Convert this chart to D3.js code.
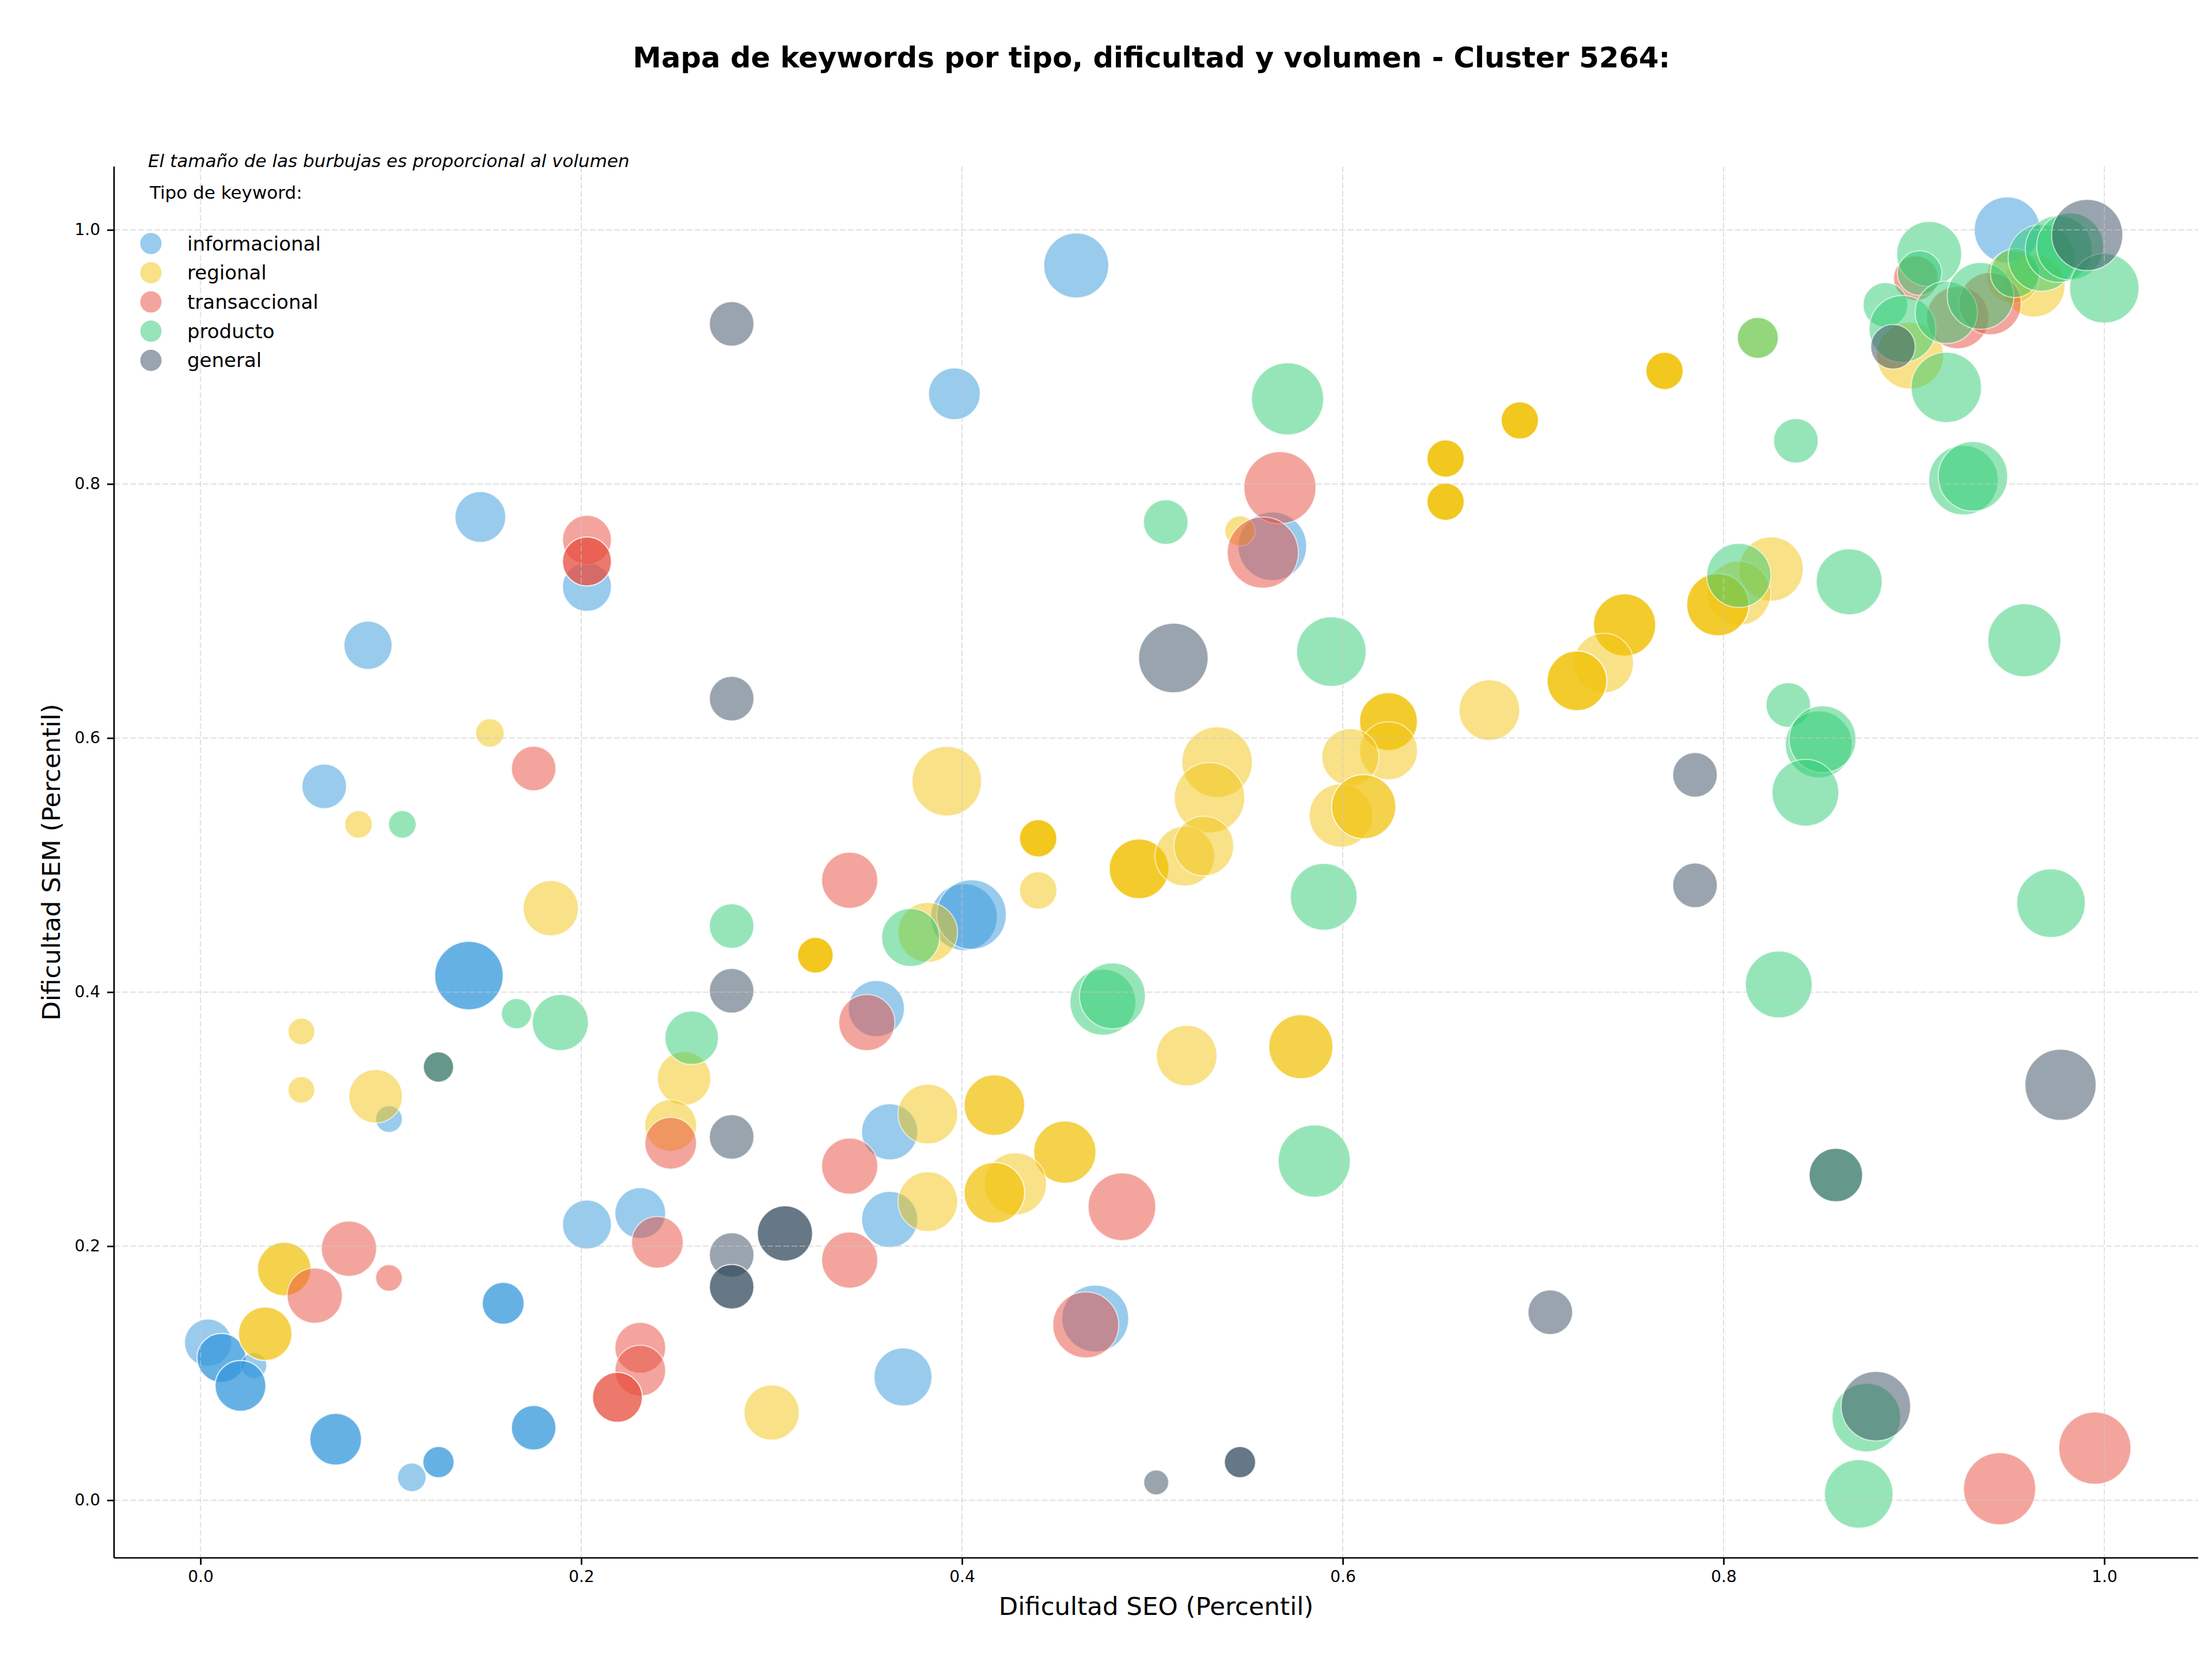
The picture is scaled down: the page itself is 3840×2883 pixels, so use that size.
<!DOCTYPE html>
<html>
<head>
<meta charset="utf-8">
<script src="https://cdn.jsdelivr.net/npm/d3@7"></script>
<style>
  body { margin: 0; background: #ffffff; }
  #chart { width: 3840px; height: 2883px; }
  text { font-family: "DejaVu Sans", sans-serif; fill: #000; }
</style>
</head>
<body>
<div id="chart"></div>
<script>
// each point: [dificultad SEO, dificultad SEM, volumen]
// repeated rows are keywords that share the same percentiles
var informacional = [
    [0.147, 0.774, 458], [0.203, 0.719, 426], [0.088, 0.673, 412], [0.065, 0.562, 353],
    [0.460, 0.972, 750], [0.396, 0.871, 475], [0.563, 0.751, 835], [0.949, 1.000, 772],
    [0.141, 0.413, 835], [0.141, 0.413, 835],
    [0.099, 0.300, 126], [0.203, 0.217, 426], [0.231, 0.226, 458], [0.004, 0.124, 396],
    [0.011, 0.112, 426], [0.011, 0.112, 426],
    [0.028, 0.106, 119],
    [0.021, 0.090, 458], [0.021, 0.090, 458],
    [0.159, 0.155, 312], [0.159, 0.155, 312],
    [0.071, 0.048, 475], [0.071, 0.048, 475],
    [0.175, 0.057, 353], [0.175, 0.057, 353],
    [0.111, 0.018, 144],
    [0.125, 0.030, 173], [0.125, 0.030, 173],
    [0.401, 0.459, 793], [0.405, 0.461, 858], [0.355, 0.387, 559], [0.362, 0.290, 559],
    [0.362, 0.221, 559], [0.470, 0.143, 793], [0.369, 0.097, 596]
];
var regional = [
    [0.152, 0.604, 144], [0.083, 0.532, 135], [0.546, 0.763, 162],
    [0.654, 0.820, 248], [0.654, 0.820, 248], [0.654, 0.820, 248], [0.654, 0.820, 248],
    [0.654, 0.786, 248], [0.654, 0.786, 248], [0.654, 0.786, 248], [0.654, 0.786, 248],
    [0.677, 0.622, 652],
    [0.624, 0.613, 596], [0.624, 0.613, 596], [0.624, 0.613, 596],
    [0.624, 0.590, 596], [0.604, 0.585, 578], [0.534, 0.581, 881], [0.530, 0.553, 881],
    [0.392, 0.566, 858],
    [0.440, 0.521, 248], [0.440, 0.521, 248], [0.440, 0.521, 248], [0.440, 0.521, 248],
    [0.599, 0.539, 711],
    [0.611, 0.546, 732], [0.611, 0.546, 732],
    [0.693, 0.850, 248], [0.693, 0.850, 248], [0.693, 0.850, 248], [0.693, 0.850, 248],
    [0.769, 0.889, 248], [0.769, 0.889, 248], [0.769, 0.889, 248], [0.769, 0.889, 248],
    [0.818, 0.915, 298], [0.825, 0.733, 732], [0.808, 0.714, 732],
    [0.797, 0.705, 690], [0.797, 0.705, 690], [0.797, 0.705, 690],
    [0.748, 0.689, 690], [0.748, 0.689, 690], [0.748, 0.689, 690],
    [0.737, 0.659, 633],
    [0.723, 0.645, 633], [0.723, 0.645, 633], [0.723, 0.645, 633],
    [0.184, 0.466, 541], [0.053, 0.369, 126], [0.053, 0.323, 126], [0.092, 0.318, 507],
    [0.254, 0.332, 507], [0.247, 0.295, 475],
    [0.044, 0.182, 507], [0.044, 0.182, 507],
    [0.034, 0.131, 507], [0.034, 0.131, 507],
    [0.300, 0.069, 541], [0.440, 0.480, 248],
    [0.493, 0.497, 633], [0.493, 0.497, 633], [0.493, 0.497, 633],
    [0.517, 0.507, 633], [0.527, 0.515, 633],
    [0.323, 0.429, 226], [0.323, 0.429, 226], [0.323, 0.429, 226], [0.323, 0.429, 226],
    [0.382, 0.447, 633], [0.518, 0.350, 652],
    [0.578, 0.357, 732], [0.578, 0.357, 732],
    [0.382, 0.304, 633],
    [0.417, 0.311, 652], [0.417, 0.311, 652],
    [0.454, 0.274, 690], [0.454, 0.274, 690],
    [0.428, 0.249, 690],
    [0.417, 0.242, 652], [0.417, 0.242, 652],
    [0.382, 0.235, 633],
    [0.898, 0.901, 793], [0.963, 0.956, 690], [0.952, 0.963, 500]
];
var transaccional = [
    [0.203, 0.756, 426],
    [0.203, 0.739, 426], [0.203, 0.739, 426],
    [0.175, 0.576, 353], [0.567, 0.797, 925], [0.558, 0.746, 901],
    [0.247, 0.281, 475], [0.240, 0.203, 475], [0.078, 0.198, 541], [0.099, 0.175, 126],
    [0.060, 0.161, 541], [0.231, 0.120, 458], [0.231, 0.102, 458],
    [0.219, 0.081, 442], [0.219, 0.081, 442],
    [0.341, 0.488, 559], [0.350, 0.376, 559], [0.341, 0.263, 559], [0.484, 0.231, 813],
    [0.341, 0.189, 559], [0.465, 0.138, 772], [0.945, 0.009, 925], [0.995, 0.041, 925],
    [0.901, 0.962, 353], [0.923, 0.931, 690], [0.940, 0.942, 690]
];
var producto = [
    [0.106, 0.532, 135], [0.571, 0.867, 925], [0.507, 0.770, 353], [0.594, 0.668, 858],
    [0.818, 0.915, 298], [0.838, 0.834, 353], [0.926, 0.803, 858], [0.931, 0.806, 858],
    [0.808, 0.728, 732], [0.866, 0.723, 772], [0.958, 0.677, 948], [0.834, 0.626, 353],
    [0.850, 0.595, 793], [0.852, 0.599, 793], [0.843, 0.557, 793],
    [0.279, 0.452, 353], [0.166, 0.383, 162], [0.189, 0.376, 559], [0.258, 0.364, 507],
    [0.125, 0.341, 162], [0.590, 0.475, 793], [0.373, 0.443, 596], [0.474, 0.392, 772],
    [0.479, 0.397, 772], [0.585, 0.267, 925], [0.972, 0.470, 835], [0.829, 0.406, 793],
    [0.859, 0.256, 507], [0.875, 0.065, 835], [0.871, 0.005, 835],
    [0.908, 0.981, 750], [0.885, 0.941, 353], [0.894, 0.922, 793], [0.917, 0.876, 881],
    [0.903, 0.966, 353], [0.917, 0.935, 690], [0.935, 0.948, 793],
    [0.953, 0.966, 426], [0.967, 0.978, 793], [0.976, 0.985, 793],
    [0.982, 0.987, 793], [1.000, 0.954, 858]
];
var general = [
    [0.279, 0.926, 353], [0.279, 0.631, 353], [0.511, 0.663, 858], [0.785, 0.571, 353],
    [0.279, 0.401, 353], [0.125, 0.341, 162], [0.279, 0.286, 353], [0.279, 0.193, 353],
    [0.307, 0.210, 541], [0.307, 0.210, 541],
    [0.279, 0.168, 353], [0.279, 0.168, 353],
    [0.502, 0.014, 110],
    [0.546, 0.030, 173], [0.546, 0.030, 173],
    [0.785, 0.484, 353], [0.977, 0.327, 901], [0.859, 0.256, 507], [0.709, 0.148, 353],
    [0.880, 0.074, 858],
    [0.889, 0.908, 353], [0.991, 0.996, 901]
];

var tipos = ["informacional", "regional", "transaccional", "producto", "general"];
var colores = ["#3498db", "#f1c40f", "#e74c3c", "#2ecc71", "#34495e"];
var series = [informacional, regional, transaccional, producto, general];
var xTicks = [0.0, 0.2, 0.4, 0.6, 0.8, 1.0];
var yTicks = [0.0, 0.2, 0.4, 0.6, 0.8, 1.0];

var titulo = "Mapa de keywords por tipo, dificultad y volumen - Cluster 5264:";
var nota = "El tamaño de las burbujas es proporcional al volumen";
var tituloLeyenda = "Tipo de keyword:";

function plot_bubbles(chart){
    var width = 3840, height = 2883;
    var margin = {top: 289, right: 24, bottom: 179, left: 198};
    var plot_w = width - margin.left - margin.right,
        plot_h = height - margin.top - margin.bottom;

    var svg = d3.select(chart).append("svg")
        .attr("width", width)
        .attr("height", height);

    var x = d3.scaleLinear().domain([-0.0454, 1.0493]).range([margin.left, margin.left + plot_w]);
    var y = d3.scaleLinear().domain([-0.0454, 1.0499]).range([margin.top + plot_h, margin.top]);
    var r = d3.scaleSqrt().domain([0, 1000]).range([0, 65]);

    // bubbles, one layer per keyword type
    var layers = svg.append("g").attr("id", "bubbles");
    series.forEach(function(data, i){
        layers.append("g").selectAll("circle")
            .data(data)
          .enter().append("circle")
            .attr("cx", function(d){ return x(d[0]); })
            .attr("cy", function(d){ return y(d[1]); })
            .attr("r", function(d){ return r(d[2]); })
            .style("fill", colores[i])
            .style("fill-opacity", 0.5)
            .style("stroke", "white")
            .style("stroke-opacity", 0.6)
            .style("stroke-width", 2);
    });

    // dashed grid on top of the bubbles, like the original
    var grid = svg.append("g").attr("id", "grid")
        .style("stroke", "#c8c8c8")
        .style("stroke-opacity", 0.55)
        .style("stroke-width", 2)
        .style("stroke-dasharray", "10,4");
    grid.selectAll(".gx").data(xTicks).enter().append("line")
        .attr("x1", function(d){ return x(d); })
        .attr("x2", function(d){ return x(d); })
        .attr("y1", margin.top).attr("y2", margin.top + plot_h);
    grid.selectAll(".gy").data(yTicks).enter().append("line")
        .attr("y1", function(d){ return y(d); })
        .attr("y2", function(d){ return y(d); })
        .attr("x1", margin.left).attr("x2", margin.left + plot_w);

    // axes (left and bottom spines only)
    var fmt = d3.format(".1f");
    var xAxis = svg.append("g")
        .attr("transform", "translate(0," + (margin.top + plot_h) + ")")
        .call(d3.axisBottom(x).tickValues(xTicks).tickFormat(fmt).tickSize(12).tickPadding(10));
    var yAxis = svg.append("g")
        .attr("transform", "translate(" + margin.left + ",0)")
        .call(d3.axisLeft(y).tickValues(yTicks).tickFormat(fmt).tickSize(12).tickPadding(12));
    [xAxis, yAxis].forEach(function(ax){
        ax.select(".domain").attr("d", null);
        ax.selectAll(".tick line").style("stroke", "#000").style("stroke-width", 2.7);
        ax.selectAll(".tick text")
            .style("font-family", "DejaVu Sans")
            .style("font-size", "28px")
            .style("fill", "#000");
    });
    svg.append("line")
        .attr("x1", margin.left).attr("x2", margin.left + plot_w)
        .attr("y1", margin.top + plot_h).attr("y2", margin.top + plot_h)
        .style("stroke", "#000").style("stroke-width", 2.7);
    svg.append("line")
        .attr("x1", margin.left).attr("x2", margin.left)
        .attr("y1", margin.top).attr("y2", margin.top + plot_h)
        .style("stroke", "#000").style("stroke-width", 2.7);

    // labels
    var cx = margin.left + plot_w / 2;
    svg.append("text")
        .attr("x", cx - 8).attr("y", 117)
        .style("text-anchor", "middle")
        .style("font-weight", "bold")
        .style("font-size", "49.7px")
        .text(titulo);
    svg.append("text")
        .attr("x", cx).attr("y", 2803)
        .style("text-anchor", "middle")
        .style("font-size", "43.5px")
        .text("Dificultad SEO (Percentil)");
    svg.append("text")
        .attr("transform", "translate(104," + (margin.top + plot_h / 2) + ") rotate(-90)")
        .style("text-anchor", "middle")
        .style("font-size", "43.5px")
        .text("Dificultad SEM (Percentil)");

    // legend
    svg.append("text")
        .attr("x", 257).attr("y", 290)
        .style("font-style", "italic")
        .style("font-size", "31px")
        .text(nota);
    svg.append("text")
        .attr("x", 260).attr("y", 345)
        .style("font-size", "31px")
        .text(tituloLeyenda);

    var legend = svg.append("g").attr("id", "legend")
        .selectAll(".item")
        .data(tipos)
        .enter().append("g")
        .attr("transform", function(d, i){ return "translate(262," + (422.7 + i * 50.7) + ")"; });
    legend.append("circle")
        .attr("r", 18.5)
        .style("fill", function(d, i){ return colores[i]; })
        .style("fill-opacity", 0.5);
    legend.append("text")
        .attr("x", 63)
        .attr("dy", "0.35em")
        .style("font-size", "34px")
        .text(function(d){ return d; });
}

plot_bubbles(document.getElementById("chart"));
</script>
</body>
</html>
